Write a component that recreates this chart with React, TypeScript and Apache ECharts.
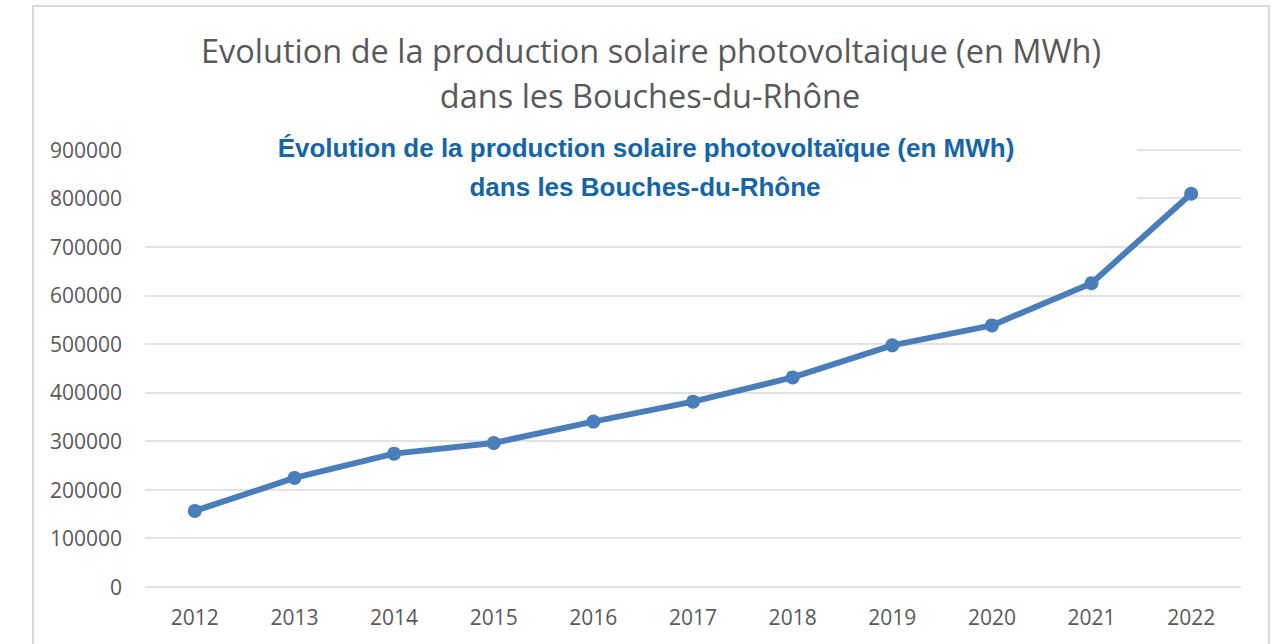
import React, { useEffect, useRef } from "react";
import * as echarts from "echarts";

const years = ["2012", "2013", "2014", "2015", "2016", "2017", "2018", "2019", "2020", "2021", "2022"];
const production = [156000, 224000, 274000, 296000, 340000, 381000, 431000, 497000, 538000, 625000, 809000];
const titleLines = ["Evolution de la production solaire photovoltaique (en MWh)", "dans les Bouches-du-Rhône"];
const subtitleLines = ["Évolution de la production solaire photovoltaïque (en MWh)", "dans les Bouches-du-Rhône"];

export default function App() {
  const ref = useRef<HTMLDivElement>(null);
  useEffect(() => {
    if (!ref.current) return;
    const chart = echarts.init(ref.current, null, { renderer: "svg" });
    chart.setOption({
      animation: false,
      backgroundColor: "#ffffff",
      grid: { left: 145, right: 30, top: 149.6, bottom: 57.3, containLabel: false },
      xAxis: {
        type: "category",
        data: years,
        boundaryGap: true,
        axisLine: { show: false },
        axisTick: { show: false },
        axisLabel: { color: "#595959", fontSize: 21, fontFamily: "Open Sans", margin: 20 },
      },
      yAxis: {
        type: "value",
        min: 0,
        max: 900000,
        interval: 100000,
        axisLine: { show: false },
        axisTick: { show: false },
        splitLine: { lineStyle: { color: "#d9d9d9", width: 1.5 } },
        axisLabel: {
          color: "#595959",
          fontSize: 21,
          fontFamily: "Open Sans",
          margin: 23,
          formatter: (v: number) => String(v),
        },
      },
      graphic: [
        {
          type: "rect",
          shape: { x: 33, y: 6, width: 1236, height: 700 },
          style: { fill: "none", stroke: "#d9d9d9", lineWidth: 2 },
          silent: true,
          z: 100,
        },
        {
          type: "rect",
          shape: { x: 140, y: 125, width: 997, height: 90 },
          style: { fill: "#ffffff" },
          silent: true,
          z: 100,
        },
        {
          type: "text",
          x: 651,
          y: 50,
          z: 101,
          style: { text: titleLines[0], fill: "#595959", fontSize: 32.5, fontFamily: "Open Sans", align: "center", verticalAlign: "middle" },
        },
        {
          type: "text",
          x: 650,
          y: 95,
          z: 101,
          style: { text: titleLines[1], fill: "#595959", fontSize: 32.5, fontFamily: "Open Sans", align: "center", verticalAlign: "middle" },
        },
        {
          type: "text",
          x: 646,
          y: 148,
          z: 101,
          style: { text: subtitleLines[0], fill: "#1565a8", fontSize: 26, fontWeight: "bold", fontFamily: "Liberation Sans", align: "center", verticalAlign: "middle" },
        },
        {
          type: "text",
          x: 645,
          y: 187,
          z: 101,
          style: { text: subtitleLines[1], fill: "#1565a8", fontSize: 26, fontWeight: "bold", fontFamily: "Liberation Sans", align: "center", verticalAlign: "middle" },
        },
      ],
      series: [
        {
          type: "line",
          data: production,
          lineStyle: { color: "#4a7ebb", width: 6 },
          itemStyle: { color: "#4a7ebb" },
          symbol: "circle",
          symbolSize: 14,
          z: 3,
        },
      ],
    });
    return () => chart.dispose();
  }, []);
  return <div ref={ref} style={{ position: "fixed", left: 0, top: 0, width: 1271, height: 644 }} />;
}
